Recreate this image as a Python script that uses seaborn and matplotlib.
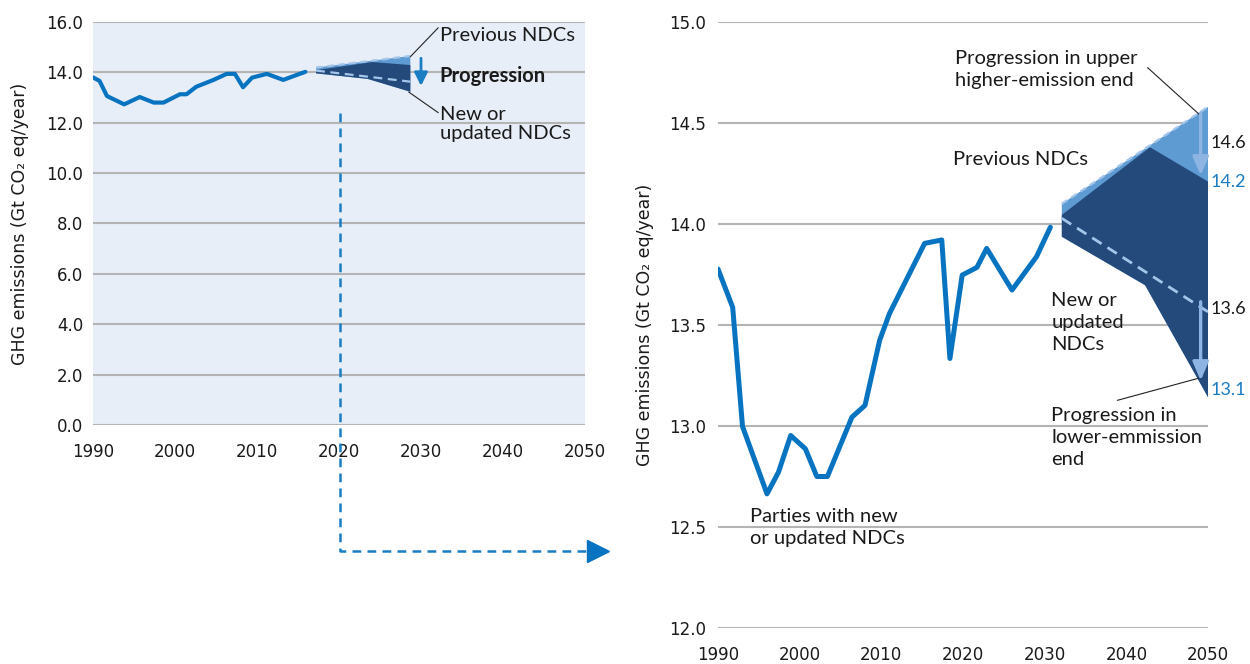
import matplotlib
matplotlib.use("Agg")
import matplotlib.pyplot as plt
import seaborn as sns
import pandas as pd

# left panel: history on full scale
hist_years = [1990.0, 1990.8, 1991.7, 1993.8, 1995.7, 1997.4, 1998.6, 2000.6, 2001.4, 2002.6,
              2004.7, 2006.3, 2007.3, 2008.3, 2009.4, 2011.2, 2013.2, 2015.2, 2015.9]
hist_ghg = [13.80, 13.66, 13.06, 12.73, 13.02, 12.80, 12.80, 13.13, 13.13, 13.43,
            13.70, 13.94, 13.94, 13.41, 13.79, 13.94, 13.70, 13.94, 14.02]

# left panel wedge
l_x = [2017.2, 2028.7]
l_prev_top = [14.19, 14.65]
l_new_top_x = [2017.2, 2024.1, 2028.7]
l_new_top = [14.09, 14.41, 14.29]
l_new_bot_x = [2017.2, 2023.5, 2028.7]
l_new_bot = [13.96, 13.74, 13.23]
l_mid = [14.07, 13.63]

# right panel: zoomed view
zoom_years = [1990.0, 1991.8, 1993.0, 1996.0, 1997.4, 1998.9, 2000.7, 2002.1, 2003.4, 2006.4,
              2008.0, 2009.8, 2011.0, 2015.3, 2017.4, 2018.4, 2019.9, 2021.7, 2022.9, 2026.0,
              2029.0, 2030.7]
zoom_ghg = [13.777, 13.587, 12.998, 12.664, 12.771, 12.953, 12.887, 12.75, 12.75, 13.044,
            13.102, 13.425, 13.557, 13.904, 13.921, 13.334, 13.747, 13.785, 13.879, 13.673,
            13.838, 13.984]

r_x = [2032.1, 2050.0]
r_prev_top = [14.10, 14.58]
r_new_top_x = [2032.1, 2042.9, 2050.0]
r_new_top = [14.045, 14.38, 14.21]
r_new_bot_x = [2032.1, 2042.3, 2050.0]
r_new_bot = [13.937, 13.697, 13.143]
r_mid = [14.028, 13.565]

end_labels = ["14.6", "14.2", "13.6", "13.1"]
end_label_y = [14.40, 14.21, 13.58, 13.18]

years_ticks = [1990, 2000, 2010, 2020, 2030, 2040, 2050]

BLUE = "#0874c1"
DARK = "#244a7c"
LIGHT = "#5f9bd3"
PALE = "#a3c6ea"
ARROW = "#8db4e2"
LBLUE = "#1a7dc4"
GRID = "#b4b4b4"

sns.set_style("white")
plt.rcParams["font.family"] = ["DejaVu Sans"]
ANN = dict(family="Lato", fontsize=14.5, color="#1a1a1a")

fig = plt.figure(figsize=(12.5, 6.64), dpi=100)
ax1 = fig.add_axes([0.0744, 0.3600, 0.3936, 0.6069])
ax2 = fig.add_axes([0.5744, 0.0542, 0.3920, 0.9127])


def wedge(ax, x, prev_top, top_x, top, bot_x, bot, mid, lw_mid):
    ax.fill(list(x) + list(bot_x[::-1]), list(prev_top) + list(bot[::-1]),
            color=LIGHT, lw=0, zorder=3)
    ax.plot(x, prev_top, color=PALE, lw=1.6, ls=(0, (3, 2)), zorder=3)
    ax.fill(list(top_x) + list(bot_x[::-1]), list(top) + list(bot[::-1]),
            color=DARK, lw=0, zorder=4)
    ax.plot(x, mid, color=PALE, lw=lw_mid, ls=(0, (4, 2.5)), zorder=5)


# ---- left panel
df1 = pd.DataFrame({"year": hist_years, "ghg": hist_ghg})
sns.lineplot(data=df1, x="year", y="ghg", ax=ax1, color=BLUE, lw=3, zorder=5)
wedge(ax1, l_x, l_prev_top, l_new_top_x, l_new_top, l_new_bot_x, l_new_bot, l_mid, 1.6)
ax1.set_facecolor("#e8eef8")
ax1.set_xlim(1990, 2050)
ax1.set_ylim(0, 16)
ax1.set_yticks(range(0, 17, 2))
ax1.set_yticklabels([f"{v:.1f}" for v in range(0, 17, 2)])

ax1.text(2032.3, 15.48, "Previous NDCs", va="center", **ANN)
ax1.text(2032.3, 13.86, "Progression", va="center", fontweight="bold", **ANN)
ax1.text(2032.3, 11.95, "New or\nupdated NDCs", va="center", linespacing=1.1, **ANN)
ax1.plot([2028.7, 2032.1], [14.62, 15.77], color="#222222", lw=0.8, zorder=6)
ax1.plot([2028.5, 2032.1], [13.22, 12.40], color="#222222", lw=0.8, zorder=6)
ax1.annotate("", xy=(2030.0, 13.46), xytext=(2030.0, 14.56),
             arrowprops=dict(arrowstyle="-|>,head_width=0.25,head_length=0.5",
                             color=LBLUE, lw=2, shrinkA=0, shrinkB=0, mutation_scale=16))

# dashed link to the zoomed panel
ax1.plot([2020.1, 2020.1, 2050.6], [12.39, -5.0, -5.0], color=LBLUE, lw=1.8,
         ls=(0, (3.5, 2.5)), clip_on=False, zorder=6)
ax1.plot([2051.6], [-5.0], marker=">", ms=16, color=BLUE, clip_on=False, zorder=6)

# ---- right panel
df2 = pd.DataFrame({"year": zoom_years, "ghg": zoom_ghg})
sns.lineplot(data=df2, x="year", y="ghg", ax=ax2, color=BLUE, lw=3.6, zorder=5)
wedge(ax2, r_x, r_prev_top, r_new_top_x, r_new_top, r_new_bot_x, r_new_bot, r_mid, 2)
ax2.set_xlim(1990, 2050)
ax2.set_ylim(12, 15)
ax2.set_yticks([12.0, 12.5, 13.0, 13.5, 14.0, 14.5, 15.0])
ax2.set_yticklabels(["12.0", "12.5", "13.0", "13.5", "14.0", "14.5", "15.0"])

ax2.annotate("", xy=(2049.1, 14.24), xytext=(2049.1, 14.55),
             arrowprops=dict(arrowstyle="-|>,head_width=0.3,head_length=0.7",
                             color=ARROW, lw=2.4, shrinkA=0, shrinkB=0, mutation_scale=16), zorder=7)
ax2.annotate("", xy=(2049.1, 13.225), xytext=(2049.1, 13.615),
             arrowprops=dict(arrowstyle="-|>,head_width=0.3,head_length=0.7",
                             color=ARROW, lw=2.4, shrinkA=0, shrinkB=0, mutation_scale=16), zorder=7)

for lab, yv, c in zip(end_labels, end_label_y, ["#1a1a1a", LBLUE, "#1a1a1a", LBLUE]):
    ax2.text(2050.3, yv, lab, va="center", ha="left", clip_on=False,
             family="Lato", fontsize=13, color=c)

ax2.text(2019.0, 14.764, "Progression in upper\nhigher-emission end", va="center",
         linespacing=1.35, **ANN)
ax2.plot([2042.6, 2049.0], [14.774, 14.54], color="#222222", lw=0.8, zorder=6)
ax2.text(2018.8, 14.317, "Previous NDCs", va="center", **ANN)
ax2.text(2030.8, 13.514, "New or\nupdated\nNDCs", va="center", linespacing=1.35, **ANN)
ax2.text(2030.8, 12.943, "Progression in\nlower-emmission\nend", va="center",
         linespacing=1.35, **ANN)
ax2.plot([2038.9, 2048.8], [13.127, 13.236], color="#222222", lw=0.8, zorder=6)
ax2.text(1993.9, 12.497, "Parties with new\nor updated NDCs", va="center",
         linespacing=1.35, **ANN)

for ax, pad_y in ((ax1, 7), (ax2, 8.5)):
    ax.set_xticks(years_ticks)
    ax.yaxis.grid(True, color=GRID, lw=1.5)
    ax.xaxis.grid(False)
    ax.set_axisbelow(True)
    sns.despine(ax=ax, left=True, bottom=True)
    ax.tick_params(axis="x", length=0, pad=13, labelsize=12, labelcolor="#1a1a1a")
    ax.tick_params(axis="y", length=0, pad=pad_y, labelsize=12, labelcolor="#1a1a1a")
    ax.set_xlabel("")
    ax.set_ylabel("GHG emissions (Gt CO\u2082 eq/year)", fontsize=12.5, color="#1a1a1a")

ax1.yaxis.set_label_coords(-0.13, 0.5)
ax2.yaxis.set_label_coords(-0.13, 0.5)

fig.savefig("out.png", dpi=100)
